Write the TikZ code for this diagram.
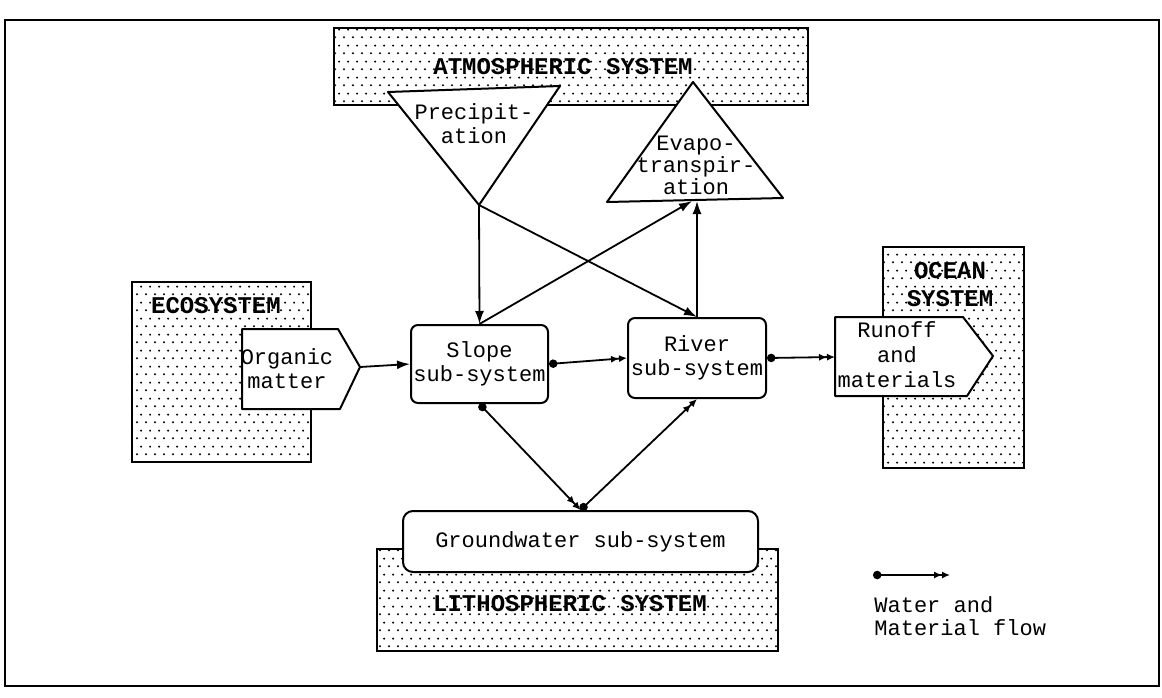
\documentclass[tikz,border=0pt]{standalone}
\usepackage{fontspec}
\setmonofont{Liberation Mono}
\usetikzlibrary{arrows.meta,patterns.meta}
\tikzdeclarepattern{
  name=sdots,
  type=uncolored,
  bounding box={(0pt,0pt) and (4.5pt,8pt)},
  tile size={(4.5pt,8pt)},
  code={\fill (1.125pt,2pt) circle (0.6pt); \fill (3.375pt,6pt) circle (0.6pt);}
}
\tikzset{
  dotbox/.style={draw, line width=1pt, pattern=sdots, pattern color=black},
  whiteshape/.style={draw, line width=1pt, fill=white, line join=round},
  systxt/.style={font=\ttfamily\bfseries\fontsize{12}{14}\selectfont, inner sep=0pt, align=center},
  txt/.style={font=\ttfamily\fontsize{11}{12}\selectfont, inner sep=0pt, align=center},
  subsys/.style={draw, line width=1pt, fill=white, rounded corners=3.5pt, txt},
  feed/.style={line width=0.9pt, -{Latex[length=6.5pt,width=4.5pt]}},
  flow/.style={line width=0.9pt, {Circle[length=4.2pt]}-{Latex[length=4pt,width=3.6pt]Latex[length=4pt,width=3.6pt]}}
}
\begin{document}
\begin{tikzpicture}[x=0.5pt,y=-0.5pt]
\useasboundingbox (0,0) rectangle (1162,697);
% frame
\draw[line width=1pt] (5,20) rectangle (1159,686);

% dotted system boxes
\draw[dotbox] (334,28) rectangle (808,105);
\draw[dotbox] (132,282) rectangle (311,462);
\draw[dotbox] (883,247) rectangle (1024,468);
\draw[dotbox] (377,549) rectangle (778,651);

\node[systxt] (atmos) at (563,67) {ATMOSPHERIC SYSTEM};
\node[systxt] (eco) at (216,306) {ECOSYSTEM};
\node[systxt, text width=80pt] (ocean) at (950,285) {OCEAN\\SYSTEM};
\node[systxt] (litho) at (570,604) {LITHOSPHERIC SYSTEM};

% precipitation triangle
\coordinate (pA) at (388,92);
\coordinate (pB) at (560,86);
\coordinate (papex) at (479,205);
\draw[whiteshape] (pA) -- (pB) -- (papex) -- cycle;
\node[txt] (precip) at (474,124) {Precipit-\\ation};

% evapotranspiration triangle
\coordinate (eapex) at (693,82);
\coordinate (eBL) at (607,202);
\coordinate (eBR) at (783,198);
\draw[whiteshape] (eapex) -- (eBR) -- (eBL) -- cycle;
\node[txt, font=\ttfamily\fontsize{11}{11}\selectfont] (evapo) at (696,165) {Evapo-\\transpir-\\ation};

% organic matter
\coordinate (omtip) at (360,367);
\draw[whiteshape] (242,329) -- (338,329) -- (omtip) -- (340,409) -- (242,409) -- cycle;
\node[txt] (organic) at (287,369) {Organic\\matter};

% runoff
\coordinate (runin) at (835,357);
\draw[whiteshape] (835,317) -- (963,317) -- (993,356) -- (967,396) -- (835,396) -- cycle;
\node[txt, font=\ttfamily\fontsize{11}{12.5}\selectfont] (runoff) at (897,355) {Runoff\\and\\materials};

% subsystems
\node[subsys, minimum width=68.5pt, minimum height=39pt] (slope) at (479.5,364) {Slope\\sub-system};
\node[subsys, minimum width=69pt, minimum height=40pt] (river) at (697,358) {River\\sub-system};
\node[subsys, rounded corners=5pt, minimum width=177.5pt, minimum height=30.5pt] (ground) at (580.5,541.5) {Groundwater sub-system};

% connectors
\coordinate (evA) at (692,201);
\coordinate (evB) at (697,201);
\draw[feed] (papex) -- (slope.north);
\draw[feed] (papex) -- (river.north);
\draw[feed] (slope.north) -- (evA);
\draw[feed] (river.north) -- (evB);
\draw[feed] (omtip) -- (slope.west);
\draw[flow] (slope.east) -- (river.west);
\draw[flow] (river.east) -- (runin);
\draw[flow] (slope.south) -- (ground.north);
\draw[flow] (ground.north) -- (river.south);

% legend
\coordinate (l1) at (873,575);
\coordinate (l2) at (950,575);
\draw[flow] (l1) -- (l2);
\node[txt, anchor=north west, align=left, font=\ttfamily\fontsize{11}{11.5}\selectfont] (legend) at (874,596) {Water and\\Material flow};
\end{tikzpicture}
\end{document}
